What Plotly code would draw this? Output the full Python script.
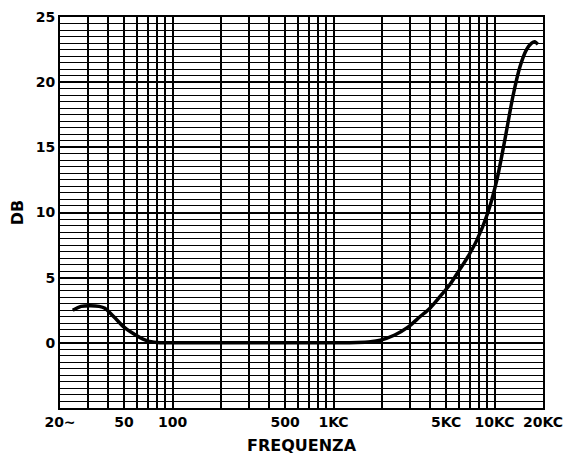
import numpy as np
import plotly.graph_objects as go

# Data
freq = [24, 27, 31, 35, 38, 44, 50, 60, 70, 80, 90, 100, 200, 500, 1000, 1400,
        1700, 1950, 2400, 2900, 3440, 4000, 4550, 5300, 6060, 6900, 7780, 9100,
        10340, 11600, 13000, 14400, 15800, 17000, 17800, 18600]
db = [2.5, 2.8, 2.85, 2.8, 2.65, 1.9, 1.2, 0.55, 0.15, 0.03, 0.0, 0.0, 0.0, 0.0, 0.0, 0.02,
      0.08, 0.2, 0.6, 1.2, 2.0, 2.7, 3.5, 4.5, 5.6, 6.7, 7.9, 10.0,
      12.5, 15.6, 18.9, 21.2, 22.5, 23.0, 23.1, 22.9]

x_tickvals = [20, 50, 100, 500, 1000, 5000, 10000, 20000]
x_ticktext = ["20~", "50", "100", "500", "1KC", "5KC", "10KC", "20KC"]
y_tickvals = [0, 5, 10, 15, 20, 25]
y_ticktext = ["0", "5", "10", "15", "20", "25"]

grid_freqs = [m * d for d in [10, 100, 1000, 10000] for m in range(1, 10) if 20 <= m * d <= 20000]
grid_db = [v / 2 for v in range(-10, 51)]

fig = go.Figure()
fig.add_trace(go.Scatter(x=freq, y=db, mode="lines",
                         line=dict(color="black", width=3.5, shape="spline", smoothing=0.7),
                         hoverinfo="skip", showlegend=False))

tick_font = dict(family="DejaVu Sans", size=14, color="black", weight="bold")
title_font = dict(family="DejaVu Sans", size=16, color="black", weight="bold")

fig.update_xaxes(type="log", range=[np.log10(20), np.log10(20000)], automargin=False,
                 tickmode="array", tickvals=x_tickvals, ticktext=x_ticktext,
                 tickfont=tick_font, showgrid=True, gridcolor="black", gridwidth=2,
                 ticks="", ticklabelstandoff=0, showline=True, linecolor="black", linewidth=2, mirror=True,
                 minor=dict(tickmode="array", tickvals=grid_freqs, showgrid=True,
                            gridcolor="black", gridwidth=2, ticks=""),
                 title=dict(text="FREQUENZA", font=title_font, standoff=14),
                 zeroline=False)
fig.update_yaxes(range=[-5, 25], automargin=False,
                 tickmode="array", tickvals=y_tickvals, ticktext=y_ticktext,
                 tickfont=tick_font, showgrid=True, gridcolor="black", gridwidth=2.2,
                 ticks="", showline=True, linecolor="black", linewidth=2, mirror=True,
                 minor=dict(tickmode="array", tickvals=grid_db, showgrid=True,
                            gridcolor="black", gridwidth=1.2, ticks=""),
                 title=dict(text="DB", font=title_font, standoff=8),
                 zeroline=False)

fig.update_layout(width=575, height=455, margin=dict(l=60, r=32, t=17, b=47),
                  plot_bgcolor="white", paper_bgcolor="white", showlegend=False)

fig.write_html("out.html", config={"displayModeBar": False},
               post_script="document.body.style.margin='0';document.body.style.overflow='hidden';")
